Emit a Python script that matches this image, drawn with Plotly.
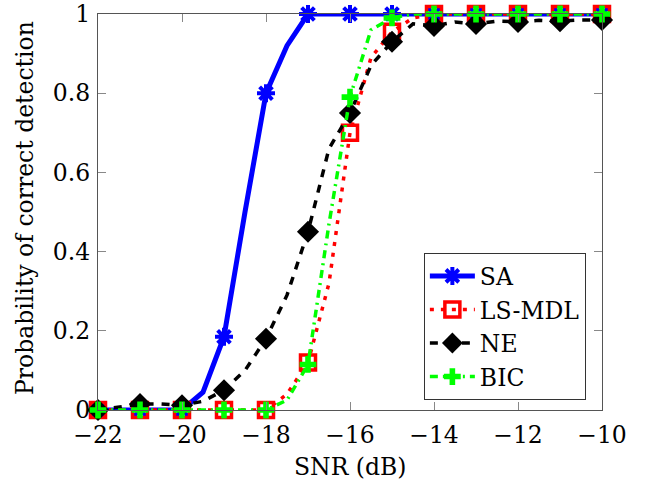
import plotly.graph_objects as go

snr = [-22, -21.5, -21, -20.5, -20, -19.5, -19, -18.5, -18, -17.5, -17, -16.5, -16,
       -15.5, -15, -14.5, -14, -13.5, -13, -12.5, -12, -11.5, -11, -10.5, -10]

sa = [0, 0, 0, 0, 0, 0.045, 0.185, 0.5, 0.8, 0.92, 1, 1, 1,
      1, 1, 1, 1, 1, 1, 1, 1, 1, 1, 1, 1]
ls_mdl = [0, 0, 0, 0, 0, 0, 0, 0, 0, 0.04, 0.12, 0.32, 0.70,
          0.89, 0.955, 0.99, 1, 1, 1, 1, 1, 1, 1, 1, 1]
ne = [0, 0.008, 0.015, 0.015, 0.012, 0.022, 0.05, 0.10, 0.18, 0.29, 0.45, 0.66, 0.75,
      0.87, 0.93, 0.975, 0.97, 0.98, 0.975, 0.982, 0.98, 0.984, 0.982, 0.985, 0.985]
bic = [0, 0, 0, 0, 0, 0, 0, 0, 0, 0.025, 0.115, 0.47, 0.79,
       0.96, 0.99, 1, 1, 1, 1, 1, 1, 1, 1, 1, 1]

x_ticks = [-22, -20, -18, -16, -14, -12, -10]
x_tick_text = ["\u221222", "\u221220", "\u221218", "\u221216", "\u221214", "\u221212", "\u221210"]
y_ticks = [0, 0.2, 0.4, 0.6, 0.8, 1]
y_tick_text = ["0", "0.2", "0.4", "0.6", "0.8", "1"]

FONT = "DejaVu Serif"
CLEAR = "rgba(0,0,0,0)"

fig = go.Figure()


def add_series(name, y, color, width, dash, symbol, msize, mlw):
    colors = [color if float(v).is_integer() else CLEAR for v in snr]
    fig.add_trace(go.Scatter(
        x=snr, y=y, name=name, mode="lines+markers",
        line=dict(color=color, width=width, dash=dash),
        marker=dict(symbol=symbol, size=msize, color=colors,
                    line=dict(width=mlw, color=colors)),
        cliponaxis=False,
    ))


add_series("SA", sa, "#0000FF", 5, "solid", "asterisk-open", 15, 4)
add_series("LS-MDL", ls_mdl, "#FF0000", 3.5, "4px,7px", "square-open", 15, 3.5)
add_series("NE", ne, "#000000", 3.5, "8px,8px", "diamond", 17, 0)
add_series("BIC", bic, "#00FF00", 3.5, "8px,5px,2px,5px", "cross", 14, 0)

axis_common = dict(
    showgrid=False, zeroline=False, showline=True, linecolor="#555555", linewidth=1.3,
    mirror="ticks", ticks="inside", ticklen=8, tickwidth=1, tickcolor="#888888",
    tickfont=dict(family=FONT, size=23.5, color="black"), automargin=False,
)

fig.update_layout(
    width=655, height=487,
    margin=dict(l=98, r=53, t=14, b=77, autoexpand=False),
    paper_bgcolor="white", plot_bgcolor="white",
    font=dict(family=FONT, size=23.5, color="black"),
    xaxis=dict(range=[-22, -10], tickvals=x_ticks, ticktext=x_tick_text,
               ticklabelstandoff=4, **axis_common),
    yaxis=dict(range=[0, 1], tickvals=y_ticks, ticktext=y_tick_text,
               ticklabelstandoff=2, **axis_common),
    legend=dict(x=0.968, y=0.025, xanchor="right", yanchor="bottom",
                bgcolor="white", bordercolor="#333333", borderwidth=1,
                itemwidth=45,
                font=dict(family=FONT, size=23.5, color="black")),
    annotations=[
        dict(text="SNR (dB)", xref="paper", yref="paper", x=0.5, y=-0.144,
             xanchor="center", yanchor="middle", showarrow=False,
             font=dict(family=FONT, size=23.5, color="black")),
        dict(text="Probability of correct detection", xref="paper", yref="paper",
             x=-0.145, y=0.51, xanchor="center", yanchor="middle", textangle=-90,
             showarrow=False, font=dict(family=FONT, size=23.5, color="black")),
    ],
)

fig.write_html("out.html")
